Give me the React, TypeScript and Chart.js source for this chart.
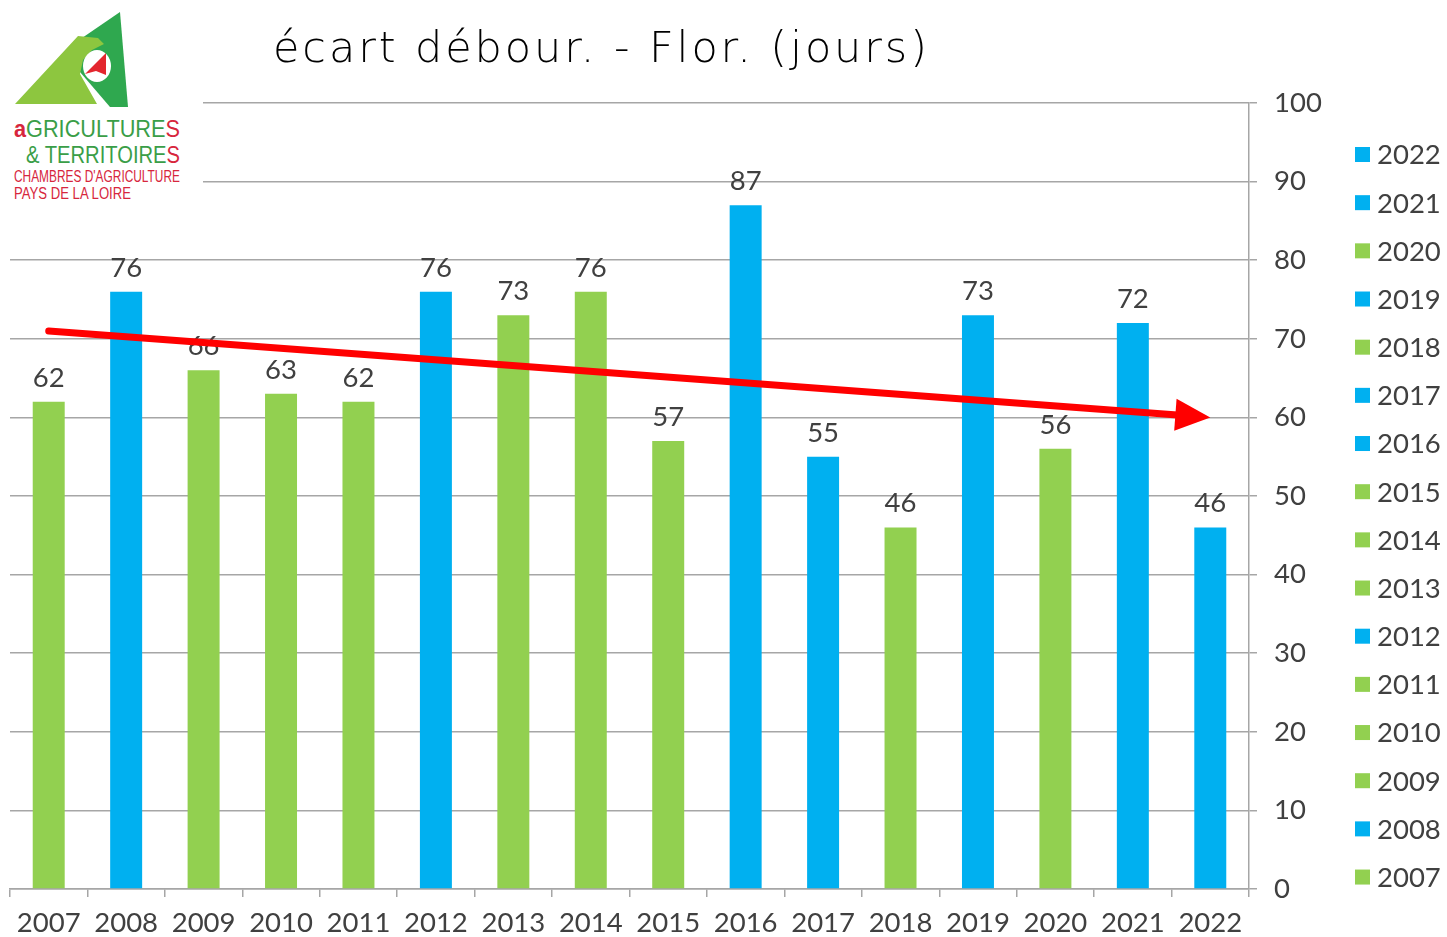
import React, { useEffect, useRef } from "react";
import { Chart, registerables } from "chart.js";

Chart.register(...registerables);

const years = ["2007", "2008", "2009", "2010", "2011", "2012", "2013", "2014", "2015", "2016", "2017", "2018", "2019", "2020", "2021", "2022"];
const values = [62, 76, 66, 63, 62, 76, 73, 76, 57, 87, 55, 46, 73, 56, 72, 46];
const groups = ["g", "b", "g", "g", "g", "b", "g", "g", "g", "b", "b", "g", "b", "g", "b", "b"];
const yMin = 0;
const yMax = 100;
const yStep = 10;
const trendYears = ["2007", "2022"];
const trendValues = [71, 60];
const title = "écart débour. - Flor. (jours)";

const GREEN = "#92D050";
const BLUE = "#00B0F0";
const TEXT = "#404040";
const GRID = "#A6A6A6";
const FONT = "Lato, 'DejaVu Sans', sans-serif";
const FS = 27.5;

const colorOf = (g: string) => (g === "b" ? BLUE : GREEN);

const valueLabels = {
  id: "valueLabels",
  afterDatasetsDraw(chart: any) {
    const ctx = chart.ctx;
    const meta = chart.getDatasetMeta(0);
    ctx.save();
    ctx.fillStyle = TEXT;
    ctx.font = `${FS}px ${FONT}`;
    ctx.textAlign = "center";
    ctx.textBaseline = "alphabetic";
    meta.data.forEach((el: any, i: number) => {
      ctx.fillText(String(values[i]), el.x, el.y - 15);
    });
    ctx.restore();
  },
};

const trendArrow = {
  id: "trendArrow",
  afterDatasetsDraw(chart: any) {
    const ctx = chart.ctx;
    const xs = chart.scales.x;
    const ys = chart.scales.y;
    const x0 = xs.getPixelForValue(years.indexOf(trendYears[0]));
    const x1 = xs.getPixelForValue(years.indexOf(trendYears[1]));
    const y0 = ys.getPixelForValue(trendValues[0]);
    const y1 = ys.getPixelForValue(trendValues[1]);
    const ang = Math.atan2(y1 - y0, x1 - x0);
    const headLen = 35;
    const headHalf = 16;
    const bx = x1 - headLen * Math.cos(ang);
    const by = y1 - headLen * Math.sin(ang);
    ctx.save();
    ctx.strokeStyle = "#FF0000";
    ctx.fillStyle = "#FF0000";
    ctx.lineWidth = 7;
    ctx.lineCap = "round";
    ctx.beginPath();
    ctx.moveTo(x0, y0);
    ctx.lineTo(bx + 2 * Math.cos(ang), by + 2 * Math.sin(ang));
    ctx.stroke();
    ctx.beginPath();
    ctx.moveTo(x1, y1);
    ctx.lineTo(bx - headHalf * Math.sin(ang), by + headHalf * Math.cos(ang));
    ctx.lineTo(bx + headHalf * Math.sin(ang), by - headHalf * Math.cos(ang));
    ctx.closePath();
    ctx.fill();
    ctx.restore();
  },
};

const sideLegend = {
  id: "sideLegend",
  afterDraw(chart: any) {
    const ctx = chart.ctx;
    const startY = 154.5;
    const step = 48.17;
    const sq = 15;
    const boxX = 1355;
    const textX = 1377;
    ctx.save();
    ctx.font = `${FS}px ${FONT}`;
    ctx.textAlign = "left";
    ctx.textBaseline = "middle";
    const n = years.length;
    for (let k = 0; k < n; k++) {
      const i = n - 1 - k;
      const y = startY + k * step;
      ctx.fillStyle = colorOf(groups[i]);
      ctx.fillRect(boxX, y - sq / 2, sq, sq);
      ctx.fillStyle = TEXT;
      ctx.fillText(years[i], textX, y + 1);
    }
    ctx.restore();
  },
};

function Logo() {
  const narrow = "'Liberation Sans Narrow', 'Liberation Sans', sans-serif";
  return (
    <div style={{ position: "absolute", left: 0, top: 0, width: 203, height: 216, background: "#fff" }}>
      <svg width={203} height={216} viewBox="0 0 203 216">
        <polygon points="120,12 128,107 110,107 80,72 82,38" fill="#2FA84F" />
        <polygon points="15,104 78,36 98,38 104,44 92,50 83,60 80,74 97,104" fill="#8DC63F" />
        <ellipse cx={97} cy={66} rx={14} ry={16} fill="#ffffff" />
        <polygon points="85,74 106,53 106,75 96,71" fill="#E3262E" />
        <text x={14} y={137} fontFamily={narrow} fontSize={24} textLength={166} lengthAdjust="spacingAndGlyphs">
          <tspan fill="#D7263D" fontWeight="bold">a</tspan>
          <tspan fill="#3A9E47">GRICULTURE</tspan>
          <tspan fill="#D7263D">S</tspan>
        </text>
        <text x={26} y={163} fontFamily={narrow} fontSize={24} textLength={154} lengthAdjust="spacingAndGlyphs">
          <tspan fill="#3A9E47">&amp; TERRITOIRE</tspan>
          <tspan fill="#D7263D">S</tspan>
        </text>
        <text x={14} y={182} fill="#D7263D" fontFamily={narrow} fontSize={16} textLength={166} lengthAdjust="spacingAndGlyphs">
          CHAMBRES D'AGRICULTURE
        </text>
        <text x={14} y={199} fill="#D7263D" fontFamily={narrow} fontSize={16} textLength={117} lengthAdjust="spacingAndGlyphs">
          PAYS DE LA LOIRE
        </text>
      </svg>
    </div>
  );
}

export default function App() {
  const ref = useRef<HTMLCanvasElement | null>(null);

  useEffect(() => {
    if (!ref.current) return;
    const chart = new Chart(ref.current, {
      type: "bar",
      data: {
        labels: years,
        datasets: [
          {
            data: values,
            backgroundColor: groups.map(colorOf),
            borderWidth: 0,
            categoryPercentage: 1,
            barPercentage: 0.413,
          },
        ],
      },
      options: {
        responsive: false,
        animation: false,
        layout: { padding: { left: 10, right: 107, top: 103, bottom: 0 } },
        plugins: {
          legend: { display: false },
          title: { display: false },
          tooltip: { enabled: false },
        },
        scales: {
          x: {
            grid: {
              display: true,
              drawOnChartArea: false,
              drawTicks: true,
              tickLength: 8,
              color: GRID,
              lineWidth: 1.5,
              offset: true,
            },
            border: { display: true, color: GRID, width: 1.5 },
            ticks: {
              color: TEXT,
              font: { family: FONT, size: FS },
              padding: 10,
              maxRotation: 0,
              autoSkip: false,
            },
            afterFit: (scale: any) => {
              scale.height = 48;
            },
          },
          y: {
            position: "right",
            min: yMin,
            max: yMax,
            grid: {
              color: GRID,
              lineWidth: 1.5,
              drawTicks: true,
              tickLength: 8,
            },
            border: { display: true, color: GRID, width: 1.5 },
            ticks: {
              stepSize: yStep,
              color: TEXT,
              font: { family: FONT, size: FS },
              padding: 17,
            },
            afterFit: (scale: any) => {
              scale.width = 91;
            },
          },
        },
      },
      plugins: [valueLabels, trendArrow, sideLegend],
    });
    return () => chart.destroy();
  }, []);

  return (
    <div style={{ position: "fixed", left: 0, top: 0, width: 1447, height: 937, background: "#fff" }}>
      <canvas ref={ref} width={1447} height={937} style={{ width: 1447, height: 937, display: "block" }} />
      <Logo />
      <div
        style={{
          position: "absolute",
          left: 273,
          top: 19,
          fontFamily: "'DejaVu Sans', sans-serif",
          fontSize: 43,
          fontWeight: 200,
          letterSpacing: 2.9,
          color: "#000",
          whiteSpace: "nowrap",
          lineHeight: "56px",
        }}
      >
        {title}
      </div>
    </div>
  );
}
